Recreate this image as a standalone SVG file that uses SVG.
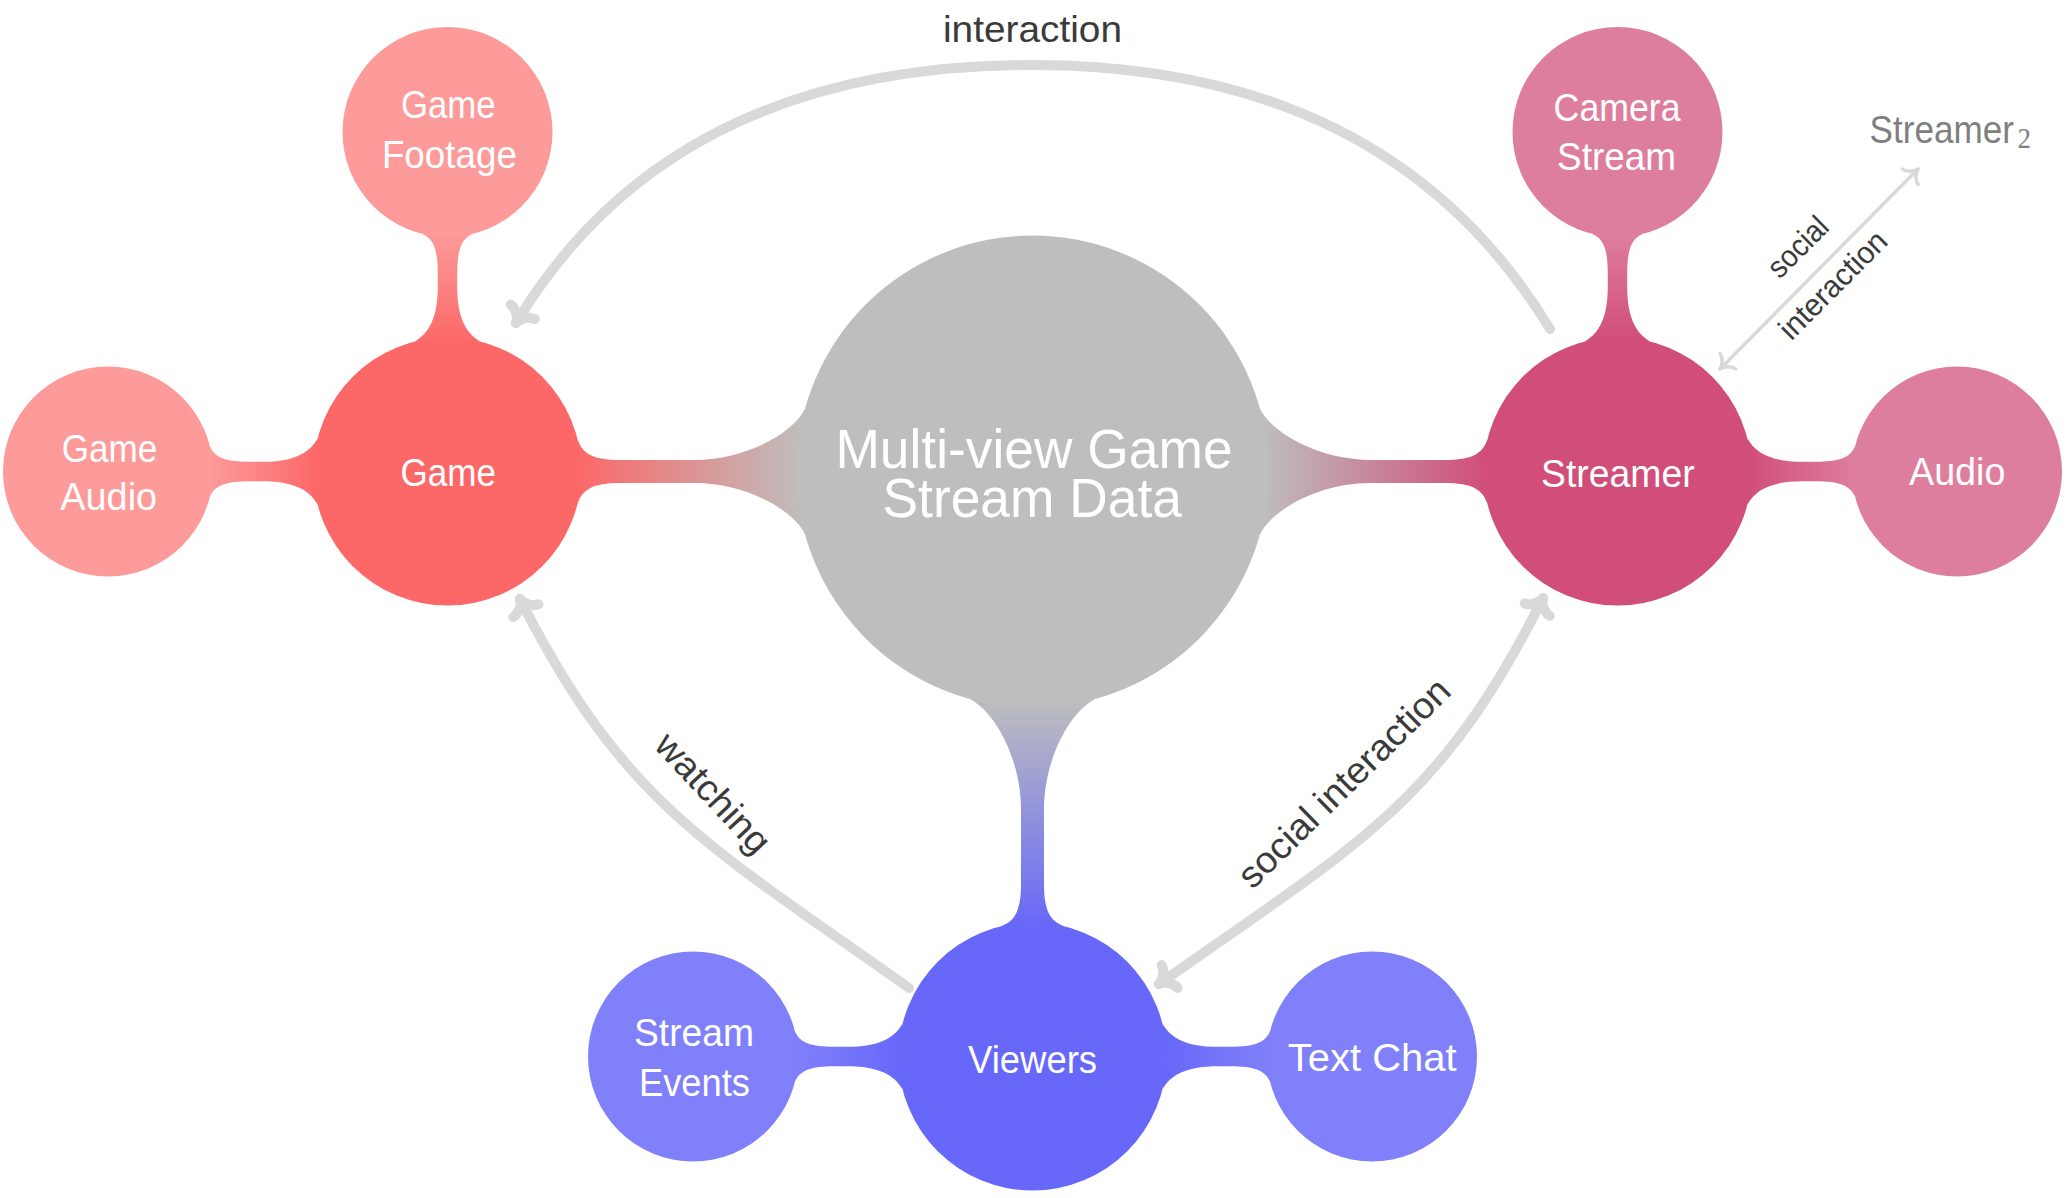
<svg xmlns="http://www.w3.org/2000/svg" width="2066" height="1198" viewBox="0 0 2066 1198">
<defs>
<style>
.nt{font-family:"Liberation Sans",Arial,sans-serif;fill:#ffffff;font-size:39px;text-anchor:middle}
.ct{font-size:55px}
.lbl{font-family:"Liberation Sans",Arial,sans-serif;fill:#3a3a3a;font-size:37px;text-anchor:middle}
.sm{font-size:31px}
.rel{fill:none;stroke:#D9D9D9;stroke-width:10;stroke-linecap:round}
.thin{stroke-width:3.5}
.ah{fill:none;stroke:#D9D9D9;stroke-linecap:round;stroke-linejoin:round}
</style>
<linearGradient id="gMGame" gradientUnits="userSpaceOnUse" x1="130" y1="0" x2="357.5" y2="0"><stop offset="0" stop-color="#FC6868"/><stop offset="1" stop-color="#BEBEBE"/></linearGradient>
<linearGradient id="gMStreamer" gradientUnits="userSpaceOnUse" x1="130" y1="0" x2="357.5" y2="0"><stop offset="0" stop-color="#D14D7A"/><stop offset="1" stop-color="#BEBEBE"/></linearGradient>
<linearGradient id="gMViewers" gradientUnits="userSpaceOnUse" x1="130" y1="0" x2="357.5" y2="0"><stop offset="0" stop-color="#6767F9"/><stop offset="1" stop-color="#BEBEBE"/></linearGradient>
<linearGradient id="gCGame" gradientUnits="userSpaceOnUse" x1="130" y1="0" x2="237.5" y2="0"><stop offset="0" stop-color="#FC6868"/><stop offset="1" stop-color="#FD9A9A"/></linearGradient>
<linearGradient id="gCStreamer" gradientUnits="userSpaceOnUse" x1="130" y1="0" x2="237.5" y2="0"><stop offset="0" stop-color="#D14D7A"/><stop offset="1" stop-color="#DE7E9E"/></linearGradient>
<linearGradient id="gCViewers" gradientUnits="userSpaceOnUse" x1="130" y1="0" x2="237.5" y2="0"><stop offset="0" stop-color="#6767F9"/><stop offset="1" stop-color="#8080FA"/></linearGradient>
<path id="neckM" d="M130,-32.3 C135,-18 145,-11.5 173,-11.5 L247.5,-11.5 C297.5,-11.5 345.5,-38 357.5,-62.7 L357.5,62.7 C345.5,38 297.5,11.5 247.5,11.5 L173,11.5 C145,11.5 135,18 130,32.3 Z"/>
<path id="neckC" d="M130,-33 C138,-18 155,-9.7 185,-9.7 L197.5,-9.7 C222.5,-9.7 232.5,-14 237.5,-25 L237.5,25 C232.5,14 222.5,9.7 197.5,9.7 L185,9.7 C155,9.7 138,18 130,33 Z"/>
<marker id="arrowThick" markerUnits="userSpaceOnUse" viewBox="-20 -20 40 40" markerWidth="40" markerHeight="40" refX="0" refY="0" orient="auto-start-reverse" overflow="visible">
<path class="ah" stroke-width="10" d="M-13,-14 C-12,-6 -5,-1 0,0 C-5,1 -12,6 -13,14"/>
</marker>
<marker id="arrowThin" markerUnits="userSpaceOnUse" viewBox="-16 -16 32 32" markerWidth="32" markerHeight="32" refX="0" refY="0" orient="auto-start-reverse" overflow="visible">
<path class="ah" stroke-width="3.5" d="M-11,-11 C-10,-5 -4,-1 0,0 C-4,1 -10,5 -11,11"/>
</marker>
</defs>
<rect x="0" y="0" width="2066" height="1198" fill="#ffffff"/>

<g id="connections">
<use href="#neckM" transform="translate(447.5,471.5)" fill="url(#gMGame)"/>
<use href="#neckM" transform="translate(1617.5,471.5) rotate(180)" fill="url(#gMStreamer)"/>
<use href="#neckM" transform="translate(1032.5,1056.5) rotate(-90)" fill="url(#gMViewers)"/>
<use href="#neckC" transform="translate(447.5,471.5) rotate(-90)" fill="url(#gCGame)"/>
<use href="#neckC" transform="translate(447.5,471.5) rotate(180)" fill="url(#gCGame)"/>
<use href="#neckC" transform="translate(1617.5,471.5) rotate(-90)" fill="url(#gCStreamer)"/>
<use href="#neckC" transform="translate(1617.5,471.5)" fill="url(#gCStreamer)"/>
<use href="#neckC" transform="translate(1032.5,1056.5) rotate(180)" fill="url(#gCViewers)"/>
<use href="#neckC" transform="translate(1032.5,1056.5)" fill="url(#gCViewers)"/>
</g>

<g id="center">
<circle cx="1032.5" cy="471.5" r="236" fill="#BEBEBE"/>
<text class="nt ct" transform="translate(1033,0) scale(0.97,1)"><tspan x="1" y="468.4">Multi-view Game</tspan><tspan x="-0.8" y="516.7">Stream Data</tspan></text>
</g>
<g id="game">
<circle cx="447.5" cy="471.5" r="134" fill="#FC6868"/>
<text class="nt" x="448.3" y="485.7" textLength="95.4" lengthAdjust="spacingAndGlyphs">Game</text>
</g>
<g id="streamer">
<circle cx="1617.5" cy="471.5" r="134" fill="#D14D7A"/>
<text class="nt" x="1617.8" y="487" textLength="153.6" lengthAdjust="spacingAndGlyphs">Streamer</text>
</g>
<g id="viewers">
<circle cx="1032.5" cy="1056.5" r="134" fill="#6767F9"/>
<text class="nt" x="1032.6" y="1073" textLength="129" lengthAdjust="spacingAndGlyphs">Viewers</text>
</g>
<g id="game-footage">
<circle cx="447.5" cy="132" r="105" fill="#FD9A9A"/>
<text class="nt" x="448.2" y="118" textLength="94.6" lengthAdjust="spacingAndGlyphs">Game</text>
<text class="nt" x="449.4" y="168" textLength="135" lengthAdjust="spacingAndGlyphs">Footage</text>
</g>
<g id="game-audio">
<circle cx="108" cy="471.5" r="105" fill="#FD9A9A"/>
<text class="nt" x="109.4" y="461.8" textLength="95.5" lengthAdjust="spacingAndGlyphs">Game</text>
<text class="nt" x="108.7" y="510" textLength="96.8" lengthAdjust="spacingAndGlyphs">Audio</text>
</g>
<g id="camera-stream">
<circle cx="1617.5" cy="132" r="105" fill="#DE7E9E"/>
<text class="nt" x="1617.1" y="120.6" textLength="127" lengthAdjust="spacingAndGlyphs">Camera</text>
<text class="nt" x="1616.5" y="170" textLength="119" lengthAdjust="spacingAndGlyphs">Stream</text>
</g>
<g id="audio">
<circle cx="1957" cy="471.5" r="105" fill="#DE7E9E"/>
<text class="nt" x="1957.2" y="485.4" textLength="96.4" lengthAdjust="spacingAndGlyphs">Audio</text>
</g>
<g id="stream-events">
<circle cx="693" cy="1056.5" r="105" fill="#8080FA"/>
<text class="nt" x="694" y="1046" textLength="120" lengthAdjust="spacingAndGlyphs">Stream</text>
<text class="nt" x="694.5" y="1096" textLength="111" lengthAdjust="spacingAndGlyphs">Events</text>
</g>
<g id="text-chat">
<circle cx="1372" cy="1056.5" r="105" fill="#8080FA"/>
<text class="nt" x="1372.2" y="1071" textLength="169" lengthAdjust="spacingAndGlyphs">Text Chat</text>
</g>
<g id="streamer2">
<text transform="translate(1869.6,143) scale(0.9,1)" x="0" y="0" font-family="Liberation Sans, Arial, sans-serif" font-size="39" fill="#7F7F7F">Streamer<tspan dx="4" dy="5" font-size="30" font-family="Liberation Serif, serif">2</tspan></text>
</g>

<g id="relations">
<path class="rel" d="M1550,329 C1448,161 1282,65 1032,65 C782,65 616,157 516,323" marker-end="url(#arrowThick)"/>
<path class="rel" d="M909,988 C705,843 624,804 520,599" marker-end="url(#arrowThick)"/>
<path class="rel" d="M1159,984 C1359,843 1440,804 1543,598" marker-start="url(#arrowThick)" marker-end="url(#arrowThick)"/>
<path class="rel thin" d="M1720,369 L1918,169" marker-start="url(#arrowThin)" marker-end="url(#arrowThin)"/>
<text class="lbl" x="1032.5" y="41.5" textLength="179" lengthAdjust="spacingAndGlyphs">interaction</text>
<text class="lbl" transform="translate(711,795) rotate(47)" x="0" y="9.6" textLength="150" lengthAdjust="spacingAndGlyphs">watching</text>
<text class="lbl" transform="translate(1346,785) rotate(-44.5)" x="0" y="9.6" textLength="281" lengthAdjust="spacingAndGlyphs">social interaction</text>
<text class="lbl sm" transform="translate(1800,249) rotate(-45)" x="0" y="7.5" textLength="72" lengthAdjust="spacingAndGlyphs">social</text>
<text class="lbl sm" transform="translate(1835,287) rotate(-45)" x="0" y="7.5" textLength="139" lengthAdjust="spacingAndGlyphs">interaction</text>
</g>
</svg>
